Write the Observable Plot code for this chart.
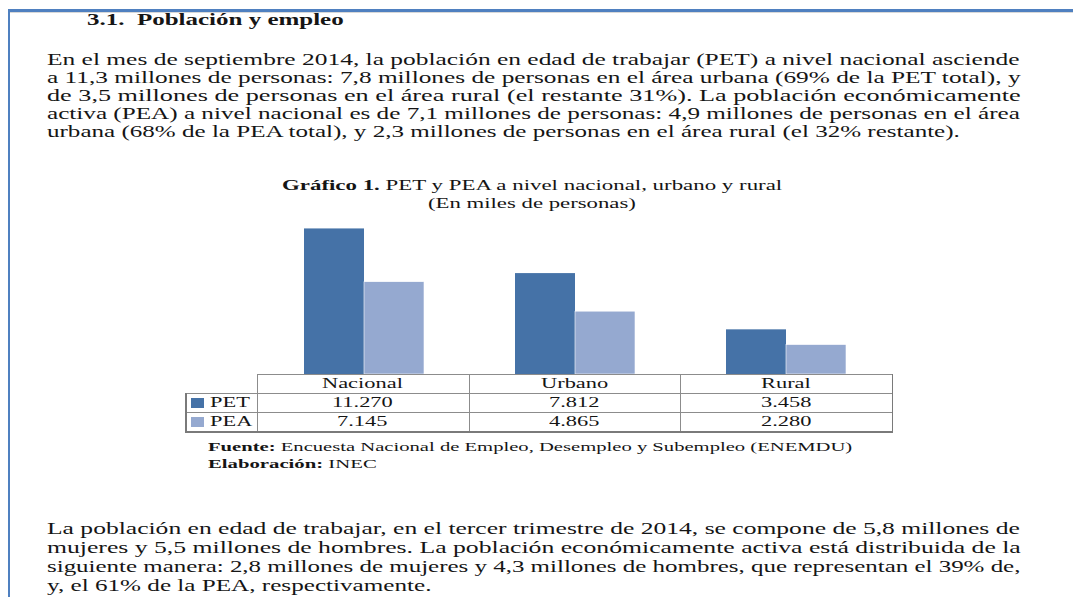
<!DOCTYPE html>
<html><head><meta charset="utf-8">
<script src="https://cdn.jsdelivr.net/npm/d3@7"></script>
<script src="https://cdn.jsdelivr.net/npm/@observablehq/plot@0.6"></script>
<style>
html,body{margin:0;padding:0;background:#fff;width:1073px;height:597px;overflow:hidden;}
#page{position:relative;width:1073px;height:597px;font-family:'Liberation Serif','Tinos','Times New Roman','DejaVu Serif','Noto Serif',serif;color:#151515;}
.t{position:absolute;white-space:nowrap;transform-origin:0 50%;font-family:'Liberation Serif','Tinos','Times New Roman','DejaVu Serif','Noto Serif',serif;}
.ln{position:absolute;background:#8c8c8c;}
</style></head><body><div id="page"></div>
<script>
// ---- data ----
const categorias = ["Nacional", "Urbano", "Rural"];
const series = ["PET", "PEA"];
const valoresPET = [11270, 7812, 3458];
const valoresPEA = [7145, 4865, 2280];
const encabezado = "3.1.&nbsp; Población y empleo";
const parrafo1 = [
  "En el mes de septiembre 2014, la población en edad de trabajar (PET) a nivel nacional asciende",
  "a 11,3 millones de personas: 7,8 millones de personas en el área urbana (69% de la PET total), y",
  "de 3,5 millones de personas en el área rural (el restante 31%). La población económicamente",
  "activa (PEA) a nivel nacional es de 7,1 millones de personas: 4,9 millones de personas en el área",
  "urbana (68% de la PEA total), y 2,3 millones de personas en el área rural (el 32% restante)."
];
const tituloGrafico = ["<b>Gráfico 1.</b> PET y PEA a nivel nacional, urbano y rural", "(En miles de personas)"];
const fuente = ["<b>Fuente:</b> Encuesta Nacional de Empleo, Desempleo y Subempleo (ENEMDU)", "<b>Elaboración:</b> INEC"];
const parrafo2 = [
  "La población en edad de trabajar, en el tercer trimestre de 2014, se compone de 5,8 millones de",
  "mujeres y 5,5 millones de hombres. La población económicamente activa está distribuida de la",
  "siguiente manera: 2,8 millones de mujeres y 4,3 millones de hombres, que representan el 39% de,",
  "y, el 61% de la PEA, respectivamente."
];

// ---- styles / layout ----
const colores = ["#4572a7", "#95a9d0"];
const page = document.getElementById("page");
const fmt = d3.formatLocale({decimal: ",", thousands: ".", grouping: [3], currency: ["$", ""]}).format(",d");

function put(html, o) {
  const el = document.createElement("div");
  el.className = "t";
  el.innerHTML = html;
  el.style.fontSize = o.size + "px";
  el.style.lineHeight = o.size + "px";
  if (o.bold) el.style.fontWeight = "bold";
  page.appendChild(el);
  const nw = el.offsetWidth;
  const s = o.w ? o.w / nw : o.s;
  const left = o.align === "center" ? o.x - nw * s / 2 : o.x;
  el.style.left = left + "px";
  el.style.top = (o.y - o.size / 2) + "px";
  el.style.transform = `scaleX(${s})`;
  return el;
}
function line(x, y, w, h, c) {
  const d = document.createElement("div");
  d.className = "ln";
  Object.assign(d.style, {left: x + "px", top: y + "px", width: w + "px", height: h + "px"});
  if (c) d.style.background = c;
  page.appendChild(d);
}

// frame
line(8, 9, 1065, 3, "#4f80c0");
line(10, 12, 1063, 1, "#d8d8d8");
line(8, 9, 2, 588, "#4f80c0");

// heading & paragraph 1
put(encabezado, {x: 87, y: 20, w: 256, size: 16, bold: true});
const ys1 = [60, 78, 96, 114, 132];
parrafo1.forEach((t, i) => put(t, {x: 47, y: ys1[i], w: i < 4 ? 973 : 913, size: 16}));

// chart title
put(tituloGrafico[0], {x: 282, y: 186, w: 500, size: 14});
put(tituloGrafico[1], {x: 428, y: 204, w: 208, size: 14});

// bars
const datos = categorias.flatMap((c, i) => [
  {categoria: c, serie: series[0], valor: valoresPET[i]},
  {categoria: c, serie: series[1], valor: valoresPEA[i]}
]);
const chart = Plot.plot({
  width: 707, height: 155,
  marginLeft: 72, marginRight: 0, marginTop: 0, marginBottom: 0,
  x: {domain: categorias, paddingInner: 0.433, paddingOuter: 0.2165, axis: null},
  y: {domain: [0, 12000], axis: null},
  color: {domain: series, range: colores},
  marks: [
    Plot.barY(datos.filter(d => d.serie === series[0]), {x: "categoria", y: "valor", fill: "serie", insetRight: 60}),
    Plot.barY(datos.filter(d => d.serie === series[1]), {x: "categoria", y: "valor", fill: "serie", insetLeft: 60, stroke: "#fff", strokeWidth: 0.6})
  ]
});
chart.style.position = "absolute";
chart.style.left = "185px";
chart.style.top = "219px";
chart.style.background = "transparent";
page.appendChild(chart);

// data table under the bars
const x0 = 257, colW = (892 - 257) / categorias.length;
const rowsY = [374, 393, 412, 431];
line(x0, rowsY[0], 892 - x0, 1);
line(185, rowsY[1], 892 - 185, 1);
line(185, rowsY[2], 892 - 185, 1);
line(185, rowsY[3], 892 - 185 + 1, 1.5, "#7a7a7a");
line(185, rowsY[1], 1.5, rowsY[3] - rowsY[1], "#7a7a7a");
for (let i = 0; i <= categorias.length; i++) {
  line(x0 + i * colW - (i === categorias.length ? 0.5 : 0), rowsY[0], i === categorias.length ? 1.5 : 1, rowsY[3] - rowsY[0], i === categorias.length ? "#7a7a7a" : null);
}
const S = 1.6;
categorias.forEach((c, i) => {
  const cx = x0 + (i + 0.5) * colW;
  put(c, {x: cx, y: 383.5, s: S, size: 14, align: "center"});
  put(fmt(valoresPET[i]), {x: cx, y: 402.5, s: S, size: 14, align: "center"});
  put(fmt(valoresPEA[i]), {x: cx, y: 421.5, s: S, size: 14, align: "center"});
});
[valoresPET, valoresPEA].forEach((_, j) => {
  const sq = document.createElement("div");
  Object.assign(sq.style, {position: "absolute", left: "191px", top: (rowsY[j + 1] + 5) + "px", width: "13px", height: "10px", background: colores[j]});
  page.appendChild(sq);
  put(series[j], {x: 210, y: rowsY[j + 1] + 9.5, s: S, size: 14});
});

// source
put(fuente[0], {x: 208, y: 446, w: 644, size: 13});
put(fuente[1], {x: 208, y: 463, w: 169, size: 13});

// paragraph 2
const ys2 = [529, 548, 567, 586];
parrafo2.forEach((t, i) => put(t, {x: 47, y: ys2[i], w: i < 3 ? 973 : 385, size: 16}));
</script></body></html>
